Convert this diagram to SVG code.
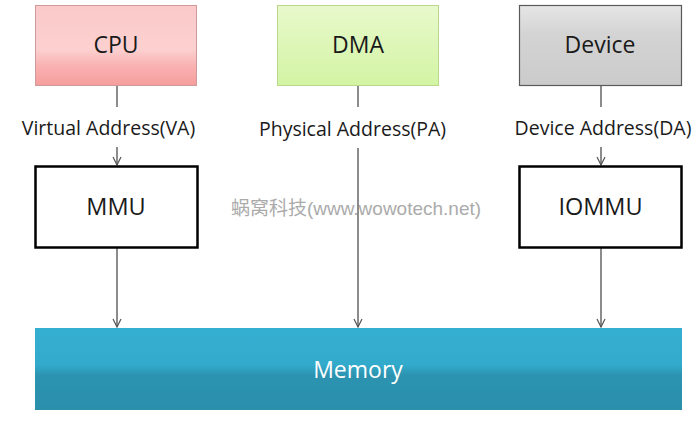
<svg xmlns="http://www.w3.org/2000/svg" width="697" height="422" viewBox="0 0 697 422">
<defs>
<linearGradient id="gCpu" x1="0" y1="0" x2="0" y2="1">
<stop offset="0" stop-color="#fbc9c9"/><stop offset="0.55" stop-color="#fdd0d0"/><stop offset="0.75" stop-color="#f9b2b2"/><stop offset="1" stop-color="#f69d9d"/>
</linearGradient>
<linearGradient id="gDma" x1="0" y1="0" x2="0" y2="1">
<stop offset="0" stop-color="#e8f9cc"/><stop offset="1" stop-color="#d3f4a4"/>
</linearGradient>
<linearGradient id="gDev" x1="0" y1="0" x2="0" y2="1">
<stop offset="0" stop-color="#e6e6e6"/><stop offset="0.35" stop-color="#d4d4d4"/><stop offset="1" stop-color="#cbcbcb"/>
</linearGradient>
<linearGradient id="gMem" x1="0" y1="0" x2="0" y2="1">
<stop offset="0" stop-color="#35afd1"/><stop offset="0.45" stop-color="#32aacb"/><stop offset="0.58" stop-color="#2b93b0"/><stop offset="1" stop-color="#2a8fab"/>
</linearGradient>
<marker id="arr" viewBox="0 0 10 10" refX="9" refY="5" markerWidth="10" markerHeight="10" markerUnits="userSpaceOnUse" orient="auto">
<path d="M1,1 L9,5 L1,9" fill="none" stroke="#555" stroke-width="1.2"/>
</marker>
</defs>
<style>
.lbl{font-family:"Open Sans","Liberation Sans",sans-serif;fill:#1a1a1a;text-anchor:middle}
.big{font-size:23px}
.small{font-size:19.5px}
.conn{stroke:#666;stroke-width:1.5;fill:none}
.wm{font-family:"Liberation Sans","Noto Sans CJK SC",sans-serif;font-size:19px;fill:#ababab;text-anchor:middle}
</style>
<rect width="697" height="422" fill="#ffffff"/>
<text class="wm" x="356" y="215">蜗窝科技(www.wowotech.net)</text>
<g id="connectors">
<line class="conn" x1="117" y1="86" x2="117" y2="107"/>
<line class="conn" x1="117" y1="147" x2="117" y2="165" marker-end="url(#arr)"/>
<line class="conn" x1="117" y1="248" x2="117" y2="327" marker-end="url(#arr)"/>
<line class="conn" x1="358" y1="86" x2="358" y2="107"/>
<line class="conn" x1="358" y1="148" x2="358" y2="327" marker-end="url(#arr)"/>
<line class="conn" x1="601" y1="86" x2="601" y2="107"/>
<line class="conn" x1="601" y1="147" x2="601" y2="165" marker-end="url(#arr)"/>
<line class="conn" x1="601" y1="248" x2="601" y2="327" marker-end="url(#arr)"/>
<text class="lbl small" x="108.5" y="135">Virtual Address(VA)</text>
<text class="lbl small" x="352.5" y="136">Physical Address(PA)</text>
<text class="lbl small" x="603" y="135">Device Address(DA)</text>
</g>
<g id="cpu">
<rect x="35.5" y="5.5" width="161" height="80" fill="url(#gCpu)" stroke="#cf9a9a" stroke-width="1"/>
<text class="lbl big" x="116" y="53">CPU</text>
</g>
<g id="dma">
<rect x="277.5" y="5.5" width="161" height="80" fill="url(#gDma)" stroke="#b9d88c" stroke-width="1"/>
<text class="lbl big" x="358" y="53">DMA</text>
</g>
<g id="device">
<rect x="519.5" y="5.5" width="162" height="80" fill="url(#gDev)" stroke="#5a5a5a" stroke-width="1.2"/>
<text class="lbl big" x="600" y="53">Device</text>
</g>
<g id="mmu">
<rect x="35.5" y="166.5" width="162" height="81" fill="#ffffff" stroke="#000" stroke-width="2.5"/>
<text class="lbl big" x="116" y="215" style="font-size:23.5px">MMU</text>
</g>
<g id="iommu">
<rect x="519.5" y="166.5" width="162" height="81" fill="#ffffff" stroke="#000" stroke-width="2.5"/>
<text class="lbl big" x="600.5" y="215" style="font-size:23.5px">IOMMU</text>
</g>
<g id="memory">
<rect x="35" y="328" width="647" height="82" fill="url(#gMem)"/>
<text class="lbl big" x="358" y="378" style="fill:#ffffff">Memory</text>
</g>
</svg>
